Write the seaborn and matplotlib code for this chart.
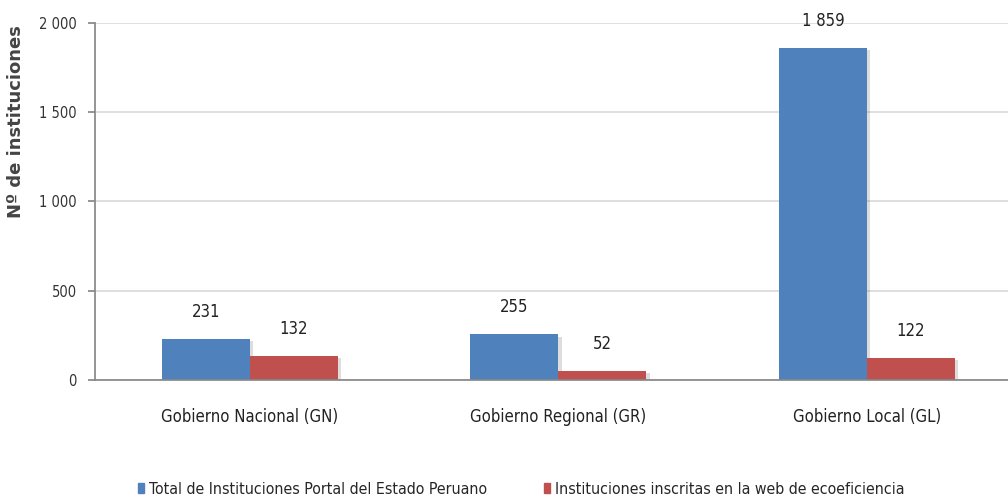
import matplotlib
matplotlib.use("Agg")
import matplotlib.pyplot as plt
import seaborn as sns
import pandas as pd
import matplotlib.patheffects as pe
from matplotlib.patches import Patch

categories = ["Gobierno Nacional (GN)", "Gobierno Regional (GR)", "Gobierno Local (GL)"]
series_names = ["Total de Instituciones Portal del Estado Peruano",
                "Instituciones inscritas en la web de ecoeficiencia"]
total_values = [231, 255, 1859]
inscritas_values = [132, 52, 122]
yticks = [0, 500, 1000, 1500, 2000]
ytick_labels = ["0", "500", "1 000", "1 500", "2 000"]

sns.set_theme(style="white")
plt.rcParams['font.family'] = ['DejaVu Sans']
plt.rcParams['font.stretch'] = 'condensed'

df = pd.DataFrame({
    "cat": categories * 2,
    "serie": [series_names[0]] * 3 + [series_names[1]] * 3,
    "val": total_values + inscritas_values,
})

fig = plt.figure(figsize=(10.08, 4.98), dpi=100)
ax = fig.add_axes([0.094, 0.237, 0.906, 0.717])
sns.barplot(data=df, x="cat", y="val", hue="serie", order=categories,
            hue_order=series_names, palette=["#4F81BD", "#C0504D"],
            width=0.57, ax=ax, saturation=1, legend=False, linewidth=0)

for p in ax.patches:
    p.set_path_effects([pe.SimplePatchShadow(offset=(2.5, -1.5), alpha=0.2, shadow_rgbFace="#555555"), pe.Normal()])

for cont in ax.containers:
    ax.bar_label(cont, labels=[f"{int(v):,}".replace(",", " ") for v in cont.datavalues],
                 padding=13, fontsize=12, color="#222222")

ax.set_ylim(0, 2000)
ax.set_xlim(-0.502, 2.457)
ax.set_yticks(yticks)
ax.set_yticklabels(ytick_labels)
ax.yaxis.grid(True, color="#d9d9d9", linewidth=1.2)
ax.set_axisbelow(True)
for s in ["top", "right"]:
    ax.spines[s].set_visible(False)
ax.spines["left"].set_color("#888888")
ax.spines["bottom"].set_color("#888888")
ax.tick_params(axis="y", left=True, length=5, color="#888888", labelsize=10.5, labelcolor="#333333", pad=8)
ax.tick_params(axis="x", bottom=False, labelsize=12, labelcolor="#222222", pad=14)
ax.set_xlabel("")
ax.set_ylabel("Nº de instituciones", fontsize=13, fontweight="bold", fontstretch="normal", color="#444444")
ax.yaxis.set_label_coords(-0.076, 0.725)

handles = [Patch(color="#4F81BD"), Patch(color="#C0504D")]
fig.legend(handles, series_names, loc="lower center", bbox_to_anchor=(0.517, -0.026),
           ncol=2, frameon=False, fontsize=11.45, handlelength=0.4, handleheight=0.55,
           handletextpad=0.3, columnspacing=3.6)

fig.savefig("out.png", dpi=100)
